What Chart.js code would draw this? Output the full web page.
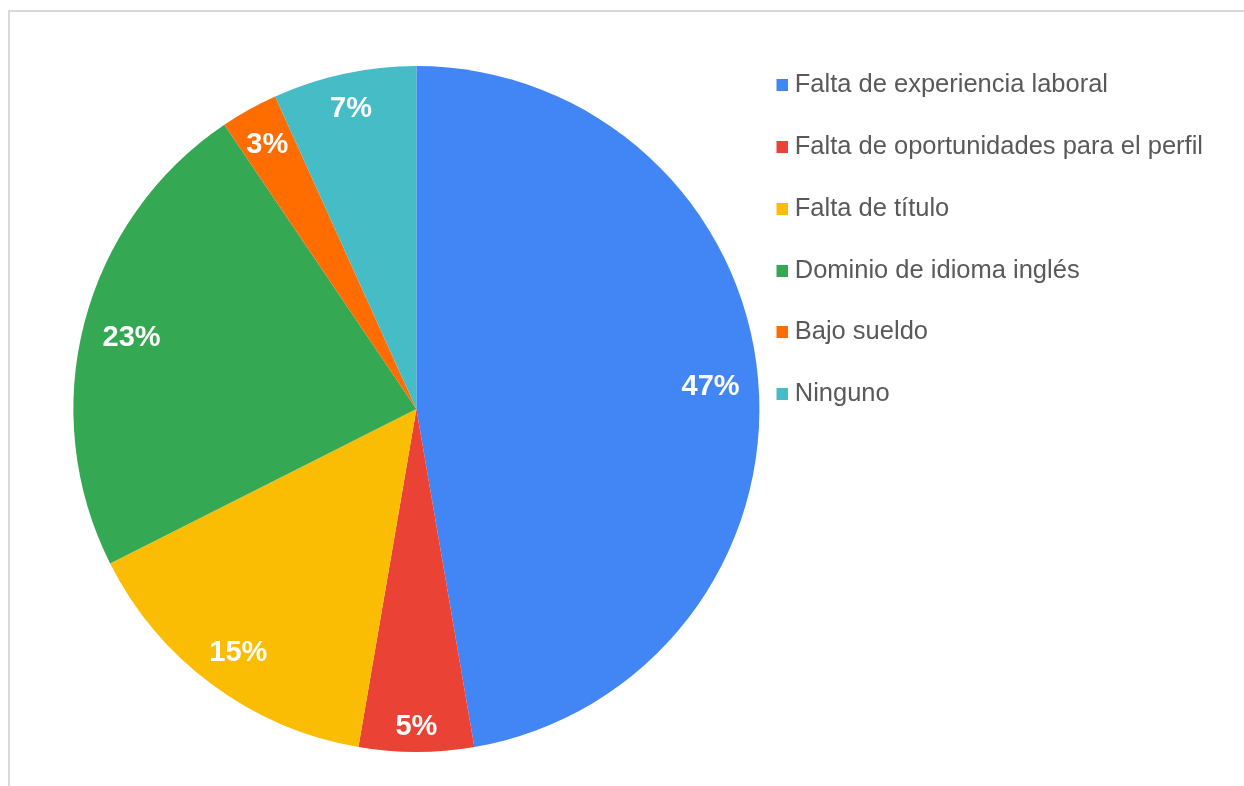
<!DOCTYPE html>
<html>
<head>
<meta charset="utf-8">
<script src="https://cdn.jsdelivr.net/npm/chart.js@4.4.1/dist/chart.umd.min.js"></script>
<style>
  html, body { margin: 0; padding: 0; background: #fff; overflow: hidden; }
  #wrap { position: relative; width: 1244px; height: 786px; }
  #frame { position: absolute; left: 8px; top: 10px; right: -10px; bottom: -10px;
           border-top: 2px solid #d9d9d9; border-left: 2px solid #d9d9d9; }
  #chart { position: absolute; left: 0; top: 0; }
</style>
</head>
<body>
<div id="wrap">
  <div id="frame"></div>
  <canvas id="chart" width="1244" height="786"></canvas>
</div>
<script>
// causas (respuestas por categoria)
const labels = [
    'Falta de experiencia laboral',
    'Falta de oportunidades para el perfil',
    'Falta de título',
    'Dominio de idioma inglés',
    'Bajo sueldo',
    'Ninguno'
];
const values = [35, 4, 11, 17, 2, 5];
const colors = ['#4285F4', '#EA4335', '#FBBC04', '#34A853', '#FF6D01', '#46BDC6'];

const FONT = "'Liberation Sans', Arial, sans-serif";
const LEGEND_SIZE = 25.5;
const PCT_SIZE = 29;

// cuadrito de la leyenda, corrido a la derecha para dejar poco espacio antes del texto
function legendSwatch(color) {
    const c = document.createElement('canvas');
    c.width = 14;
    c.height = 12;
    const g = c.getContext('2d');
    g.fillStyle = color;
    g.fillRect(2, 0, 12, 12);
    return c;
}
const swatches = colors.map(legendSwatch);

// etiquetas de porcentaje dentro de cada porcion
const pctLabels = {
    id: 'pctLabels',
    afterDatasetsDraw(chart) {
        const ctx = chart.ctx;
        const meta = chart.getDatasetMeta(0);
        const total = values.reduce((a, b) => a + b, 0);
        ctx.save();
        ctx.fillStyle = '#ffffff';
        ctx.font = 'bold ' + PCT_SIZE + 'px ' + FONT;
        ctx.textAlign = 'center';
        ctx.textBaseline = 'alphabetic';
        const hh = PCT_SIZE * 0.716 / 2;
        meta.data.forEach((arc, i) => {
            const p = arc.getProps(['x', 'y', 'startAngle', 'endAngle', 'outerRadius'], true);
            const mid = (p.startAngle + p.endAngle) / 2;
            const txt = Math.round(values[i] / total * 100) + '%';
            const hw = ctx.measureText(txt).width / 2;
            const cx = Math.cos(mid), sy = Math.sin(mid);
            const r = p.outerRadius - (Math.abs(cx) * hw + Math.abs(sy) * hh) - 18;
            ctx.fillText(txt, p.x + cx * r, p.y + sy * r + hh + 1);
        });
        ctx.restore();
    }
};

const chart = new Chart(document.getElementById('chart'), {
    type: 'pie',
    data: {
        labels: labels,
        datasets: [{
            data: values,
            backgroundColor: colors,
            borderWidth: 0,
            clip: false
        }]
    },
    plugins: [pctLabels],
    options: {
        responsive: false,
        animation: false,
        radius: 343,
        layout: {
            padding: { left: 88, top: 34, bottom: 2, right: 31 }
        },
        plugins: {
            tooltip: { enabled: false },
            legend: {
                position: 'right',
                align: 'start',
                title: {
                    display: true,
                    text: '',
                    padding: 0,
                    font: { size: 2, lineHeight: 1.25 }
                },
                labels: {
                    usePointStyle: true,
                    boxWidth: 1,
                    boxHeight: 12,
                    padding: 36.2,
                    color: '#595959',
                    font: { family: FONT, size: LEGEND_SIZE },
                    generateLabels(chart) {
                        const items = Chart.overrides.pie.plugins.legend.labels.generateLabels(chart);
                        return items.map((it, i) => Object.assign(it, { pointStyle: swatches[i] }));
                    }
                }
            }
        }
    }
});
</script>
</body>
</html>
